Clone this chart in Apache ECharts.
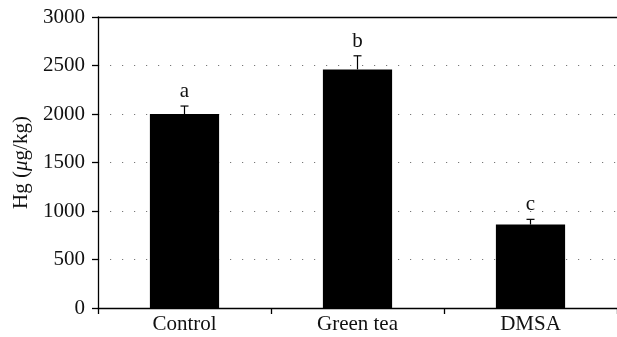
<!DOCTYPE html>
<html>
<head>
<meta charset="utf-8">
<script src="https://cdn.jsdelivr.net/npm/echarts@6/dist/echarts.min.js"></script>
<style>
  html, body { margin: 0; padding: 0; background: #fff; }
  #chart { width: 617px; height: 337px; }
</style>
</head>
<body>
<div id="chart"></div>
<script>
  const categories = ['Control', 'Green tea', 'DMSA'];
  const means = [2000, 2460, 860];
  const upper = [2082, 2600, 914];
  const letters = ['a', 'b', 'c'];
  const yTicks = { min: 0, max: 3000, step: 500 };

  const FONT = '"Liberation Serif", "DejaVu Serif", serif';
  const FS = 21;

  const chart = echarts.init(document.getElementById('chart'), null, { renderer: 'canvas' });

  function renderErr(params, api) {
    const i = api.value(0);
    const top = api.coord([i, api.value(2)]);
    const base = api.coord([i, api.value(1)]);
    const half = 4;
    return {
      type: 'group',
      children: [
        { type: 'line', shape: { x1: base[0], y1: base[1], x2: top[0], y2: top[1] }, style: { stroke: '#000', lineWidth: 1.2 } },
        { type: 'line', shape: { x1: top[0] - half, y1: top[1], x2: top[0] + half, y2: top[1] }, style: { stroke: '#000', lineWidth: 1.2 } },
        { type: 'text', x: top[0], y: top[1] - 4, style: { text: letters[i], fill: '#111', font: FS + 'px ' + FONT, align: 'center', verticalAlign: 'bottom' } }
      ]
    };
  }

  chart.setOption({
    animation: false,
    grid: { left: 98, right: -4, top: 17, bottom: 29 },
    xAxis: [{
      type: 'category',
      data: categories,
      boundaryGap: true,
      axisLine: { lineStyle: { color: '#000', width: 1.3 } },
      axisTick: { show: true, length: 6, lineStyle: { color: '#000', width: 1.3 } },
      axisLabel: { color: '#111', fontFamily: FONT, fontSize: FS, margin: 6 }
    }, {
      type: 'category',
      position: 'top',
      data: categories,
      axisLine: { show: true, lineStyle: { color: '#000', width: 1.3 } },
      axisTick: { show: false },
      axisLabel: { show: false }
    }],
    yAxis: {
      type: 'value',
      min: yTicks.min,
      max: yTicks.max,
      interval: yTicks.step,
      name: '{n|Hg (}{i|μ}{n|g/kg)}',
      nameLocation: 'middle',
      nameRotate: 90,
      nameGap: 61,
      nameTextStyle: {
        rich: {
          n: { fontFamily: FONT, fontSize: FS, color: '#111' },
          i: { fontFamily: FONT, fontSize: FS, color: '#111', fontStyle: 'italic' }
        }
      },
      axisLine: { show: true, lineStyle: { color: '#000', width: 1.3 } },
      axisTick: { show: true, length: 6, lineStyle: { color: '#000', width: 1.3 } },
      axisLabel: { color: '#111', fontFamily: FONT, fontSize: FS, margin: 13, formatter: v => String(v) },
      splitLine: { show: true, lineStyle: { color: '#777', width: 1, type: [1.2, 10.8] } }
    },
    series: [{
      type: 'bar',
      data: means,
      barWidth: '40%',
      itemStyle: { color: '#000' }
    }, {
      type: 'custom',
      renderItem: renderErr,
      data: categories.map((c, i) => [i, means[i], upper[i]]),
      z: 3
    }]
  });
</script>
</body>
</html>
